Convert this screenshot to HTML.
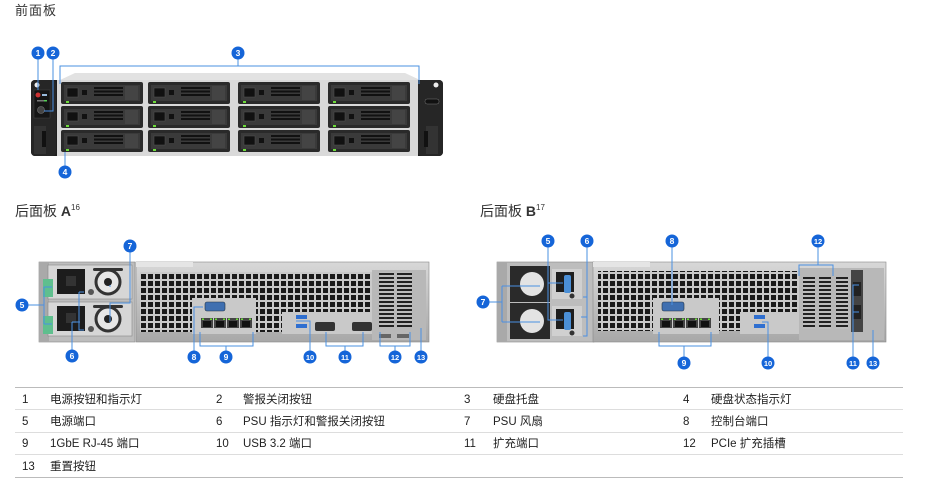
<!DOCTYPE html>
<html><head><meta charset="utf-8"><style>
html,body{margin:0;padding:0;background:#fff;}
body{width:933px;height:487px;overflow:hidden;position:relative;font-family:"Liberation Sans","Noto Sans CJK SC",sans-serif;}
svg{position:absolute;left:0;top:0;}
</style></head><body>
<svg width="933" height="487" viewBox="0 0 933 487" xmlns="http://www.w3.org/2000/svg" font-family="Liberation Sans, Noto Sans CJK SC, sans-serif">
<defs>
<pattern id="vent" x="0" y="0" width="7" height="7" patternUnits="userSpaceOnUse">
<rect width="7" height="7" fill="#c9c9c9"/><rect x="1" y="1" width="5" height="5" fill="#1a1a1a"/></pattern>
<pattern id="slot" x="0" y="0" width="8" height="4" patternUnits="userSpaceOnUse">
<rect width="8" height="4" fill="#bdbdbd"/><rect y="1" width="8" height="2" fill="#222"/></pattern>
<linearGradient id="chas" x1="0" y1="0" x2="0" y2="1"><stop offset="0" stop-color="#d8d8d8"/><stop offset="1" stop-color="#a8a8a8"/></linearGradient>
<g id="bay">
<rect x="0" y="0" width="82" height="22" rx="2" fill="#2a2a2a"/>
<rect x="3" y="3" width="76" height="16" fill="#3a3a3a"/>
<rect x="6" y="6" width="11" height="9" fill="#111" stroke="#555" stroke-width="0.5"/>
<rect x="21" y="8" width="5" height="5" fill="#111"/>
<rect x="33" y="5" width="29" height="2" fill="#111"/><rect x="33" y="8.5" width="29" height="2" fill="#111"/><rect x="33" y="12" width="29" height="2" fill="#111"/>
<rect x="64" y="4" width="13" height="14" fill="#444"/>
<rect x="5" y="19" width="3" height="2" fill="#6ddc3a"/>
</g>
<g id="psuA">
<rect x="0" y="0" width="84" height="34" fill="#d6d6d6" stroke="#888" stroke-width="0.6"/>
<rect x="9" y="4" width="28" height="25" fill="#1c1c1c"/>
<rect x="18" y="11" width="10" height="10" fill="#333"/>
<circle cx="60" cy="17" r="12" fill="#e6e6e6" stroke="#333" stroke-width="3"/>
<circle cx="60" cy="17" r="4" fill="#222"/>
<rect x="45" y="3" width="30" height="3" rx="1.5" fill="#333"/>
<circle cx="43" cy="27" r="3" fill="#555"/>
</g>
<g id="psuB">
<rect x="0" y="0" width="40" height="36" fill="#2a2a2a"/>
<circle cx="22" cy="18" r="12" fill="#e3e3e3"/>
<rect x="42" y="3" width="30" height="30" fill="#d0d0d0"/>
<rect x="46" y="6" width="18" height="20" fill="#1e1e1e"/>
<rect x="54" y="9" width="7" height="18" rx="2" fill="#4b8fd6"/>
<circle cx="62" cy="30" r="2.5" fill="#333"/>
</g>
<g id="rj">
<rect x="0" y="0" width="12" height="10" fill="#444"/><rect x="2" y="3" width="8" height="6" fill="#111"/>
<rect x="1" y="0.5" width="2" height="1.5" fill="#6ddc3a"/><rect x="9" y="0.5" width="2" height="1.5" fill="#6ddc3a"/>
</g>
</defs>

<text x="15" y="15" font-size="13" fill="#333" letter-spacing="1">前面板</text>
<text x="15" y="216" font-size="14" fill="#333">后面板 <tspan font-weight="bold">A</tspan><tspan font-size="8" dy="-6">16</tspan></text>
<text x="480" y="216" font-size="14" fill="#333">后面板 <tspan font-weight="bold">B</tspan><tspan font-size="8" dy="-6">17</tspan></text>

<!-- FRONT PANEL -->
<path d="M60 80 L75 73 L405 73 L420 80 Z" fill="#e2e2e2"/>
<rect x="31" y="80" width="412" height="76" rx="4" fill="#1e1e1e"/>
<rect x="57" y="80" width="361" height="76" fill="#d9d9d9"/>
<rect x="31" y="80" width="25" height="76" rx="4" fill="#262626"/>
<rect x="418" y="80" width="25" height="76" rx="4" fill="#262626"/>
<circle cx="37" cy="85" r="2.5" fill="#eee"/><circle cx="436" cy="85" r="2.5" fill="#eee"/>
<rect x="34" y="90" width="16" height="28" fill="#151515" stroke="#444" stroke-width="0.5"/>
<circle cx="38" cy="95" r="2.5" fill="#c33"/><rect x="42" y="94" width="5" height="2" fill="#9bd"/>
<rect x="37" y="100" width="8" height="1.5" fill="#777"/><rect x="44" y="100" width="3" height="1.5" fill="#5c5"/>
<circle cx="41" cy="110" r="3.5" fill="#444" stroke="#777" stroke-width="0.6"/>
<rect x="34" y="126" width="12" height="28" fill="#333"/><rect x="42" y="131" width="4" height="16" fill="#111"/>
<rect x="426" y="126" width="12" height="28" fill="#333"/><rect x="424" y="131" width="4" height="16" fill="#111"/>
<rect x="425" y="99" width="14" height="5" rx="2" fill="#111" stroke="#777" stroke-width="0.5"/>
<use href="#bay" x="61" y="82"/><use href="#bay" x="148" y="82"/><use href="#bay" x="238" y="82"/><use href="#bay" x="328" y="82"/>
<use href="#bay" x="61" y="106"/><use href="#bay" x="148" y="106"/><use href="#bay" x="238" y="106"/><use href="#bay" x="328" y="106"/>
<use href="#bay" x="61" y="130"/><use href="#bay" x="148" y="130"/><use href="#bay" x="238" y="130"/><use href="#bay" x="328" y="130"/>

<g stroke="#4a90e2" stroke-width="1" fill="none">
<path d="M38 53 V90"/><path d="M53 53 V111 H44"/>
<path d="M60 84 V66 H419 V84"/><path d="M238 53 V66"/>
<path d="M65 152 V172"/>
</g>

<!-- REAR A -->
<rect x="39" y="262" width="96" height="80" fill="#bdbdbd" stroke="#888" stroke-width="0.6"/>
<rect x="39" y="262" width="10" height="80" fill="#a9a9a9"/>
<use href="#psuA" x="48" y="265"/><use href="#psuA" x="48" y="302"/>
<rect x="43" y="279" width="10" height="18" fill="#5fbf8e"/><rect x="43" y="316" width="10" height="18" fill="#5fbf8e"/>
<rect x="136" y="262" width="293" height="80" fill="url(#chas)" stroke="#888" stroke-width="0.6"/>
<rect x="136" y="262" width="57" height="5" fill="#e5e5e5"/>
<rect x="140" y="272" width="232" height="60" fill="url(#vent)"/>
<rect x="192" y="298" width="64" height="36" fill="#c9c9c9"/>
<rect x="282" y="312" width="90" height="22" fill="#c9c9c9"/>
<rect x="372" y="270" width="54" height="70" fill="#b8b8b8"/>
<rect x="379" y="272" width="15" height="55" fill="url(#slot)"/>
<rect x="397" y="272" width="15" height="55" fill="url(#slot)"/>
<rect x="205" y="302" width="20" height="9" rx="2" fill="#3f6fb0" stroke="#234" stroke-width="0.6"/>
<use href="#rj" x="201" y="318"/><use href="#rj" x="214" y="318"/><use href="#rj" x="227" y="318"/><use href="#rj" x="240" y="318"/>
<rect x="296" y="315" width="11" height="4" fill="#2f6fd0"/><rect x="296" y="324" width="11" height="4" fill="#2f6fd0"/>
<rect x="315" y="322" width="20" height="9" rx="2" fill="#333"/><rect x="352" y="322" width="20" height="9" rx="2" fill="#333"/>
<rect x="379" y="334" width="12" height="4" fill="#666"/><rect x="397" y="334" width="12" height="4" fill="#666"/>
<g stroke="#4a90e2" stroke-width="1" fill="none">
<path d="M130 246 V303 H110 V322"/><path d="M110 285 V287"/>
<path d="M22 305 H44 M44 287 V324 M44 287 H52 M44 324 H52"/>
<path d="M72 356 V322 M72 322 H80 M79 292 V330 H84 M79 292 H84"/>
<path d="M194 357 V307 H203"/>
<path d="M200 332 V346 H253 V332 M226 346 V357"/>
<path d="M310 357 V321 H296"/>
<path d="M326 332 V346 H363 V332 M345 346 V357"/>
<path d="M380 332 V346 H410 V332 M395 346 V357"/>
<path d="M421 357 V328"/>
</g>

<!-- REAR B -->
<rect x="497" y="262" width="97" height="80" fill="#bdbdbd" stroke="#888" stroke-width="0.6"/>
<rect x="497" y="262" width="10" height="80" fill="#a9a9a9"/>
<use href="#psuB" x="510" y="266"/><use href="#psuB" x="510" y="303"/>
<rect x="593" y="262" width="293" height="80" fill="url(#chas)" stroke="#888" stroke-width="0.6"/>
<rect x="593" y="262" width="57" height="5" fill="#e5e5e5"/>
<rect x="598" y="271" width="230" height="60" fill="url(#vent)"/>
<rect x="653" y="298" width="66" height="36" fill="#c9c9c9"/>
<rect x="740" y="312" width="88" height="22" fill="#c9c9c9"/>
<rect x="799" y="268" width="85" height="72" fill="#b8b8b8"/>
<rect x="803" y="277" width="12" height="52" fill="url(#slot)"/>
<rect x="819" y="277" width="12" height="52" fill="url(#slot)"/>
<rect x="836" y="277" width="12" height="52" fill="url(#slot)"/>
<rect x="851" y="270" width="12" height="62" fill="#444"/>
<rect x="853" y="282" width="8" height="14" fill="#222"/><rect x="853" y="305" width="8" height="14" fill="#222"/>
<rect x="662" y="302" width="22" height="9" rx="2" fill="#3f6fb0" stroke="#234" stroke-width="0.6"/>
<use href="#rj" x="660" y="318"/><use href="#rj" x="673" y="318"/><use href="#rj" x="686" y="318"/><use href="#rj" x="699" y="318"/>
<rect x="754" y="315" width="11" height="4" fill="#2f6fd0"/><rect x="754" y="324" width="11" height="4" fill="#2f6fd0"/>
<g stroke="#4a90e2" stroke-width="1" fill="none">
<path d="M548 241 V299 M548 283 H563 M548 299 V320 H563 M548 282 V299"/>
<path d="M587 241 V317 H581 M583 297 H587 M587 317 V336 H583"/>
<path d="M483 302 H502 M502 286 V322 M502 286 H540 M502 322 H540"/>
<path d="M672 241 V305"/>
<path d="M799 276 V265 H833 V276 M818 241 V265"/>
<path d="M659 332 V346 H711 V332 M684 346 V363"/>
<path d="M768 363 V322 H762"/>
<path d="M853 363 V285 H859 M853 312 H859"/>
<path d="M873 363 V330"/>
</g>

<!-- CALLOUTS -->
<g font-size="8.5" font-weight="bold" fill="#fff" text-anchor="middle">
<g fill="#1565d8">
<circle cx="38" cy="53" r="6.5"/><circle cx="53" cy="53" r="6.5"/><circle cx="238" cy="53" r="6.5"/><circle cx="65" cy="172" r="6.5"/>
<circle cx="130" cy="246" r="6.5"/><circle cx="22" cy="305" r="6.5"/><circle cx="72" cy="356" r="6.5"/><circle cx="194" cy="357" r="6.5"/><circle cx="226" cy="357" r="6.5"/><circle cx="310" cy="357" r="6.5"/><circle cx="345" cy="357" r="6.5"/><circle cx="395" cy="357" r="6.5"/><circle cx="421" cy="357" r="6.5"/>
<circle cx="548" cy="241" r="6.5"/><circle cx="587" cy="241" r="6.5"/><circle cx="672" cy="241" r="6.5"/><circle cx="818" cy="241" r="6.5"/><circle cx="483" cy="302" r="6.5"/><circle cx="684" cy="363" r="6.5"/><circle cx="768" cy="363" r="6.5"/><circle cx="853" cy="363" r="6.5"/><circle cx="873" cy="363" r="6.5"/>
</g>
<text x="38" y="56">1</text><text x="53" y="56">2</text><text x="238" y="56">3</text><text x="65" y="175">4</text>
<text x="130" y="249">7</text><text x="22" y="308">5</text><text x="72" y="359">6</text><text x="194" y="360">8</text><text x="226" y="360">9</text><text x="310" y="360" font-size="7.5">10</text><text x="345" y="360" font-size="7.5">11</text><text x="395" y="360" font-size="7.5">12</text><text x="421" y="360" font-size="7.5">13</text>
<text x="548" y="244">5</text><text x="587" y="244">6</text><text x="672" y="244">8</text><text x="818" y="244" font-size="7.5">12</text><text x="483" y="305">7</text><text x="684" y="366">9</text><text x="768" y="366" font-size="7.5">10</text><text x="853" y="366" font-size="7.5">11</text><text x="873" y="366" font-size="7.5">13</text>
</g>

<!-- TABLE -->
<g stroke="#bbb" stroke-width="1">
<line x1="15" y1="387.5" x2="903" y2="387.5"/>
<line x1="15" y1="409.5" x2="903" y2="409.5" stroke="#ddd"/>
<line x1="15" y1="432.5" x2="903" y2="432.5" stroke="#ddd"/>
<line x1="15" y1="454.5" x2="903" y2="454.5" stroke="#ddd"/>
<line x1="15" y1="477.5" x2="903" y2="477.5"/>
</g>
<g font-size="11.5" fill="#222">
<text x="22" y="403">1</text><text x="50" y="403">电源按钮和指示灯</text>
<text x="216" y="403">2</text><text x="243" y="403">警报关闭按钮</text>
<text x="464" y="403">3</text><text x="493" y="403">硬盘托盘</text>
<text x="683" y="403">4</text><text x="711" y="403">硬盘状态指示灯</text>
<text x="22" y="425">5</text><text x="50" y="425">电源端口</text>
<text x="216" y="425">6</text><text x="243" y="425">PSU 指示灯和警报关闭按钮</text>
<text x="464" y="425">7</text><text x="493" y="425">PSU 风扇</text>
<text x="683" y="425">8</text><text x="711" y="425">控制台端口</text>
<text x="22" y="447">9</text><text x="50" y="447">1GbE RJ-45 端口</text>
<text x="216" y="447">10</text><text x="243" y="447">USB 3.2 端口</text>
<text x="464" y="447">11</text><text x="493" y="447">扩充端口</text>
<text x="683" y="447">12</text><text x="711" y="447">PCIe 扩充插槽</text>
<text x="22" y="470">13</text><text x="50" y="470">重置按钮</text>
</g>
</svg>
</body></html>
